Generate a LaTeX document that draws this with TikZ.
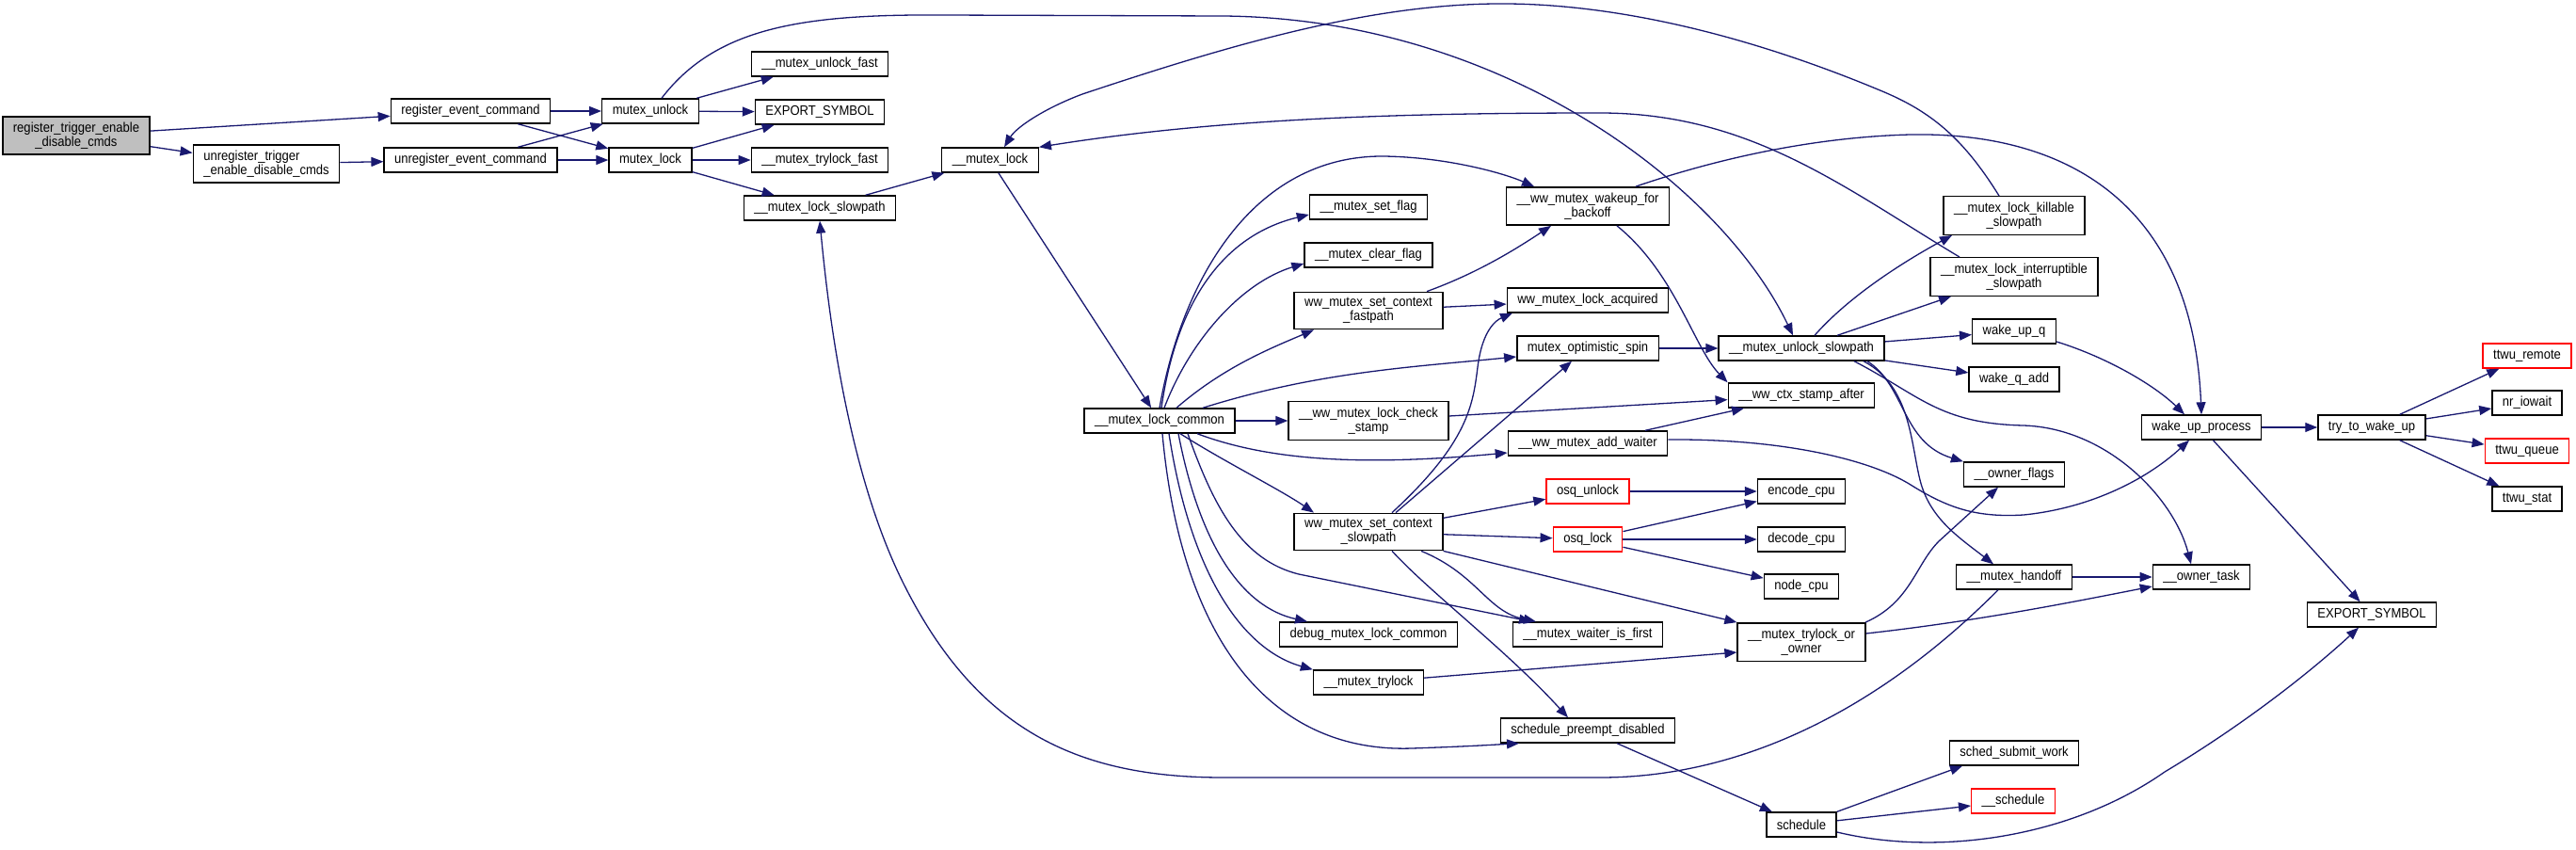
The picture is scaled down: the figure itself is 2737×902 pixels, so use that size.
\documentclass[tikz,border=0pt]{standalone}
\usepackage{fontspec}
\setmainfont{Liberation Sans}[FakeStretch=0.9]
\usetikzlibrary{arrows.meta}
\definecolor{edgeblue}{RGB}{25,25,112}

\begin{document}
\begin{tikzpicture}[x=1pt,y=-1pt,
  box/.style={draw=black,line width=1.4pt,fill=white,inner xsep=11pt,inner ysep=6pt,minimum height=26pt,font=\fontsize{14.5}{15}\selectfont,align=center},
  gbox/.style={box,fill=black!25},
  rbox/.style={box,draw=red},
  edge/.style={draw=edgeblue,line width=1.3pt,-{Triangle[length=13pt,width=10pt]}}]
\useasboundingbox (0,0) rectangle (2737,902);

\node[gbox] (rt) at (81,144) {register\_trigger\_enable\\\_disable\_cmds};
\node[box,align=left] (urt) at (283,174) {unregister\_trigger\\\_enable\_disable\_cmds};
\node[box] (rec) at (500,118) {register\_event\_command};
\node[box] (urec) at (500,170) {unregister\_event\_command};
\node[box] (munlock) at (691,118) {mutex\_unlock};
\node[box] (mlock) at (691,170) {mutex\_lock};
\node[box] (unlockfast) at (871,68) {\_\_mutex\_unlock\_fast};
\node[box] (exp1) at (871,119) {EXPORT\_SYMBOL};
\node[box] (trylockfast) at (871,170) {\_\_mutex\_trylock\_fast};
\node[box] (lockslow) at (871,221) {\_\_mutex\_lock\_slowpath};
\node[box] (lock) at (1052,170) {\_\_mutex\_lock};
\node[box] (common) at (1232,447) {\_\_mutex\_lock\_common};
\node[box] (setflag) at (1454,220) {\_\_mutex\_set\_flag};
\node[box] (clearflag) at (1454,271) {\_\_mutex\_clear\_flag};
\node[box] (fastpath) at (1454,330) {ww\_mutex\_set\_context\\\_fastpath};
\node[box] (checkstamp) at (1454,447) {\_\_ww\_mutex\_lock\_check\\\_stamp};
\node[box] (ctxslow) at (1454,565) {ww\_mutex\_set\_context\\\_slowpath};
\node[box] (debug) at (1454,674) {debug\_mutex\_lock\_common};
\node[box] (trylock) at (1454,725) {\_\_mutex\_trylock};
\node[box] (backoff) at (1687,219) {\_\_ww\_mutex\_wakeup\_for\\\_backoff};
\node[box] (acquired) at (1687,319) {ww\_mutex\_lock\_acquired};
\node[box] (spin) at (1687,370) {mutex\_optimistic\_spin};
\node[box] (addwaiter) at (1687,471) {\_\_ww\_mutex\_add\_waiter};
\node[rbox] (osqunlock) at (1687,522) {osq\_unlock};
\node[rbox] (osqlock) at (1687,573) {osq\_lock};
\node[box] (waiterfirst) at (1687,674) {\_\_mutex\_waiter\_is\_first};
\node[box] (preempt) at (1687,776) {schedule\_preempt\_disabled};
\node[box] (unlockslow) at (1914,370) {\_\_mutex\_unlock\_slowpath};
\node[box] (stampafter) at (1914,420) {\_\_ww\_ctx\_stamp\_after};
\node[box] (encode) at (1914,522) {encode\_cpu};
\node[box] (decode) at (1914,573) {decode\_cpu};
\node[box] (nodecpu) at (1914,623) {node\_cpu};
\node[box] (trylockowner) at (1914,682) {\_\_mutex\_trylock\_or\\\_owner};
\node[box] (schedule) at (1914,876) {schedule};
\node[box] (killable) at (2140,229) {\_\_mutex\_lock\_killable\\\_slowpath};
\node[box] (interruptible) at (2140,294) {\_\_mutex\_lock\_interruptible\\\_slowpath};
\node[box] (wakeq) at (2140,352) {wake\_up\_q};
\node[box] (wakeqadd) at (2140,403) {wake\_q\_add};
\node[box] (ownerflags) at (2140,504) {\_\_owner\_flags};
\node[box] (handoff) at (2140,613) {\_\_mutex\_handoff};
\node[box] (submit) at (2140,800) {sched\_submit\_work};
\node[rbox] (sched) at (2139,851) {\_\_schedule};
\node[box] (wakeproc) at (2339,454) {wake\_up\_process};
\node[box] (ownertask) at (2339,613) {\_\_owner\_task};
\node[box] (trywake) at (2520,454) {try\_to\_wake\_up};
\node[box] (exp2) at (2520,653) {EXPORT\_SYMBOL};
\node[rbox] (ttwuremote) at (2685,378) {ttwu\_remote};
\node[box] (nriowait) at (2685,428) {nr\_iowait};
\node[rbox] (ttwuqueue) at (2685,479) {ttwu\_queue};
\node[box] (ttwustat) at (2685,530) {ttwu\_stat};

\draw[edge] (rt) -- (rec);
\draw[edge] (rt) -- (urt);
\draw[edge] (urt) -- (urec);
\draw[edge] (rec) -- (munlock);
\draw[edge] (rec) -- (mlock);
\draw[edge] (urec) -- (munlock);
\draw[edge] (urec) -- (mlock);
\draw[edge] (munlock) -- (unlockfast);
\draw[edge] (munlock) -- (exp1);
\draw[edge] (mlock) -- (exp1);
\draw[edge] (mlock) -- (trylockfast);
\draw[edge] (mlock) -- (lockslow);
\draw[edge] (lockslow) -- (lock);
\draw[edge] (lock) -- (common);
\draw[edge] ([xshift=12pt]munlock.north) .. controls (760,30) and (850,15) .. (1000,16) -- (1300,17) .. controls (1600,20) and (1830,200) .. ([xshift=-9pt]unlockslow.north);
\draw[edge] ([xshift=-16pt]killable.north) .. controls (2085,145) and (2050,118) .. (2000,97) .. controls (1840,30) and (1700,3) .. (1590,4) .. controls (1450,5) and (1300,50) .. (1150,100) .. controls (1110,115) and (1080,135) .. ([xshift=15pt]lock.north);
\draw[edge] ([xshift=-58pt]interruptible.north) .. controls (1960,200) and (1860,120) .. (1700,120) .. controls (1500,120) and (1300,125) .. (lock.north east);
\draw[edge] ([xshift=-17pt]handoff.south) .. controls (2050,700) and (1900,826) .. (1700,826) -- (1300,826) .. controls (1150,826) and (1040,780) .. (960,620) .. controls (900,500) and (880,330) .. (lockslow.south);
\draw[edge] (common.north) .. controls (1255,300) and (1330,165) .. (1470,166) .. controls (1540,167) and (1600,185) .. ([xshift=-57pt]backoff.north);
\draw[edge] ([xshift=2pt]common.north) .. controls (1250,320) and (1300,250) .. ([yshift=-8pt]setflag.west);
\draw[edge] ([xshift=5pt]common.north) .. controls (1265,360) and (1320,300) .. ([yshift=-9pt]clearflag.west);
\draw[edge] ([xshift=18pt]common.north) .. controls (1300,390) and (1350,370) .. ([xshift=-58pt]fastpath.south);
\draw[edge] ([xshift=46pt]common.north) .. controls (1400,395) and (1500,390) .. ([yshift=-9pt]spin.west);
\draw[edge] (common) -- (checkstamp);
\draw[edge] ([xshift=40pt]common.south) .. controls (1350,490) and (1450,495) .. ([yshift=-10pt]addwaiter.west);
\draw[edge] ([xshift=22pt]common.south) .. controls (1300,490) and (1360,520) .. ([xshift=-58pt]ctxslow.north);
\draw[edge] ([xshift=30pt]common.south) .. controls (1290,540) and (1320,595) .. (1380,610) -- ([xshift=-60pt]waiterfirst.north);
\draw[edge] ([xshift=20pt]common.south) .. controls (1275,580) and (1320,645) .. ([xshift=-65pt]debug.north);
\draw[edge] ([xshift=10pt]common.south) .. controls (1265,610) and (1320,690) .. (trylock.north west);
\draw[edge] ([xshift=3pt]common.south) .. controls (1255,680) and (1350,800) .. (1500,795) .. controls (1560,793) and (1590,791) .. ([xshift=-73pt]preempt.south);
\draw[edge] ([xshift=62pt]fastpath.north) .. controls (1570,290) and (1610,265) .. ([xshift=-39pt]backoff.south);
\draw[edge] (fastpath) -- (acquired);
\draw[edge] ([xshift=51pt]backoff.north) .. controls (1850,160) and (1950,145) .. (2030,143) .. controls (2200,140) and (2330,220) .. (wakeproc.north);
\draw[edge] ([xshift=31pt]backoff.south) .. controls (1780,290) and (1800,370) .. (stampafter.north west);
\draw[edge] ([xshift=25pt]ctxslow.north) .. controls (1560,470) and (1565,430) .. (1570,390) .. controls (1575,350) and (1590,340) .. ([xshift=-80pt]acquired.south);
\draw[edge] ([xshift=29pt]ctxslow.north) -- ([xshift=-17pt]spin.south);
\draw[edge] (ctxslow) -- (osqunlock);
\draw[edge] (ctxslow) -- (osqlock);
\draw[edge] ([xshift=56pt]ctxslow.south) .. controls (1570,610) and (1580,650) .. ([xshift=-55pt]waiterfirst.north);
\draw[edge] (ctxslow.south east) -- (trylockowner.north west);
\draw[edge] ([xshift=25pt]ctxslow.south) .. controls (1520,630) and (1600,690) .. ([xshift=-21pt]preempt.north);
\draw[edge] (spin) -- (unlockslow);
\draw[edge] (checkstamp) -- (stampafter);
\draw[edge] (addwaiter) -- (stampafter);
\draw[edge] ([yshift=4pt]addwaiter.east) .. controls (1900,466) and (1990,490) .. (2030,515) .. controls (2070,540) and (2100,550) .. (2150,547) .. controls (2220,540) and (2280,510) .. ([xshift=-13pt]wakeproc.south);
\draw[edge] (osqunlock) -- (encode);
\draw[edge] (osqlock) -- (encode);
\draw[edge] (osqlock) -- (decode);
\draw[edge] (osqlock) -- (nodecpu);
\draw[edge] ([xshift=14pt]unlockslow.north) .. controls (1960,320) and (2010,285) .. ([xshift=-66pt]killable.south);
\draw[edge] ([xshift=38pt]unlockslow.north) -- ([xshift=-67pt]interruptible.south);
\draw[edge] (unlockslow) -- (wakeq);
\draw[edge] (unlockslow) -- (wakeqadd);
\draw[edge] ([xshift=70pt]unlockslow.south) .. controls (2025,410) and (2020,470) .. (ownerflags.north west);
\draw[edge] ([xshift=66pt]unlockslow.south) .. controls (2030,410) and (2030,470) .. (2040,510) .. controls (2050,550) and (2080,570) .. ([xshift=-22pt]handoff.north);
\draw[edge] ([xshift=56pt]unlockslow.south) .. controls (2040,420) and (2060,450) .. (2150,452) .. controls (2240,455) and (2310,530) .. ([xshift=-11pt]ownertask.north);
\draw[edge] (trylock) -- ([yshift=-11pt]trylockowner.west);
\draw[edge] ([xshift=68pt]trylockowner.north) .. controls (2030,640) and (2035,600) .. (2060,575) -- ([xshift=-17pt]ownerflags.south);
\draw[edge] ([yshift=9pt]trylockowner.east) .. controls (2100,660) and (2200,640) .. ([yshift=-10pt]ownertask.west);
\draw[edge] (handoff) -- (ownertask);
\draw[edge] ([yshift=-11pt]wakeq.east) .. controls (2240,380) and (2290,410) .. ([xshift=-18pt]wakeproc.north);
\draw[edge] (wakeproc) -- (trywake);
\draw[edge] (wakeproc) -- (exp2);
\draw[edge] (trywake) -- (ttwuremote);
\draw[edge] (trywake) -- (nriowait);
\draw[edge] (trywake) -- (ttwuqueue);
\draw[edge] (trywake) -- (ttwustat);
\draw[edge] (preempt) -- (schedule);
\draw[edge] (schedule.north east) -- ([xshift=-55pt]submit.south);
\draw[edge] (schedule) -- (sched);
\draw[edge] ([yshift=-8pt]schedule.east) .. controls (2060,910) and (2200,890) .. (2300,820) .. controls (2400,760) and (2470,700) .. ([xshift=-14pt]exp2.south);
\end{tikzpicture}
\end{document}
